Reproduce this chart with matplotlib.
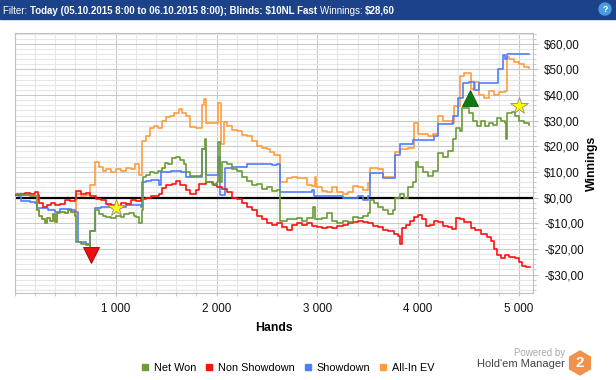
import numpy as np
import matplotlib.pyplot as plt
from matplotlib.lines import Line2D
from matplotlib.patches import Rectangle, RegularPolygon, Circle
from matplotlib.transforms import IdentityTransform

plt.rcParams['font.family'] = ['Liberation Sans', 'DejaVu Sans']

# Net Won (hands, $)
net_won_h = [0, 50, 100, 150, 210, 215, 240, 270, 300, 320, 350, 380, 400, 420, 450, 500, 530, 560,
             600, 610, 650, 700, 740, 745, 790, 795, 830, 870, 900, 950, 1000, 1050, 1080, 1130, 1180,
             1200, 1230, 1260, 1270, 1300, 1340, 1380, 1420, 1460, 1490, 1520, 1560, 1600, 1640, 1680,
             1700, 1740, 1800, 1850, 1855, 1890, 1900, 1950, 2000, 2010, 2030, 2050, 2100, 2150, 2200,
             2250, 2300, 2350, 2400, 2450, 2500, 2550, 2600, 2630, 2700, 2800, 2850, 2900, 2960, 2980,
             3050, 3100, 3150, 3200, 3250, 3300, 3350, 3400, 3450, 3500, 3520, 3560, 3600, 3650, 3700,
             3750, 3770, 3820, 3860, 3900, 3950, 3980, 4000, 4050, 4100, 4150, 4200, 4250, 4300, 4350,
             4380, 4420, 4440, 4500, 4540, 4580, 4620, 4660, 4700, 4740, 4780, 4820, 4860, 4872, 4880,
             4930, 4960, 5000, 5050, 5100]
net_won_v = [1.5, 1.0, 1.2, 0.8, 0.5, -5, -7, -8.5, -9.8, -8, -9, -6.5, -9.5, -6, -5.5, -6, -5, -5.5,
             -7, -17.5, -18, -18.5, -19, -13, -12, -5, -6.5, -7, -7.5, -8, -7, -7.5, -6.5, -6, -7,
             -7.5, -10, -5, 8, 9, 10, 9.5, 10.5, 11.5, 13.5, 13, 15.5, 16, 14.5, 13,
             10, 8.5, 8.5, 9, 19, 23, 6, 5.5, 6, 21.5, 6, 14, 13, 11, 10.5,
             8, 6.5, 5, 5.5, 3.5, 4, 2.5, 3, -9, -8.5, -8, -9, -8, -3.5, -8.5,
             -8, -6, -9, -10, -9, -9.5, -7.5, -8, -7, -6, -1, -2, -3.5, -5, -6.5,
             -5, 0, 1.5, 0, 4, 6, 14, 12, 10, 8.5, 10.5, 17.5, 16, 18, 23,
             27, 26, 35, 33, 30, 28, 30, 28, 29, 28.5, 31, 30, 29, 23, 33,
             33.5, 32, 30, 29, 28.5]

# Non Showdown
non_sd_h = [0, 50, 100, 150, 200, 227, 240, 280, 320, 360, 400, 450, 500, 550, 600, 610, 650, 700,
            740, 800, 850, 900, 950, 1000, 1050, 1100, 1150, 1200, 1250, 1300, 1350, 1400, 1430, 1460,
            1500, 1560, 1600, 1640, 1700, 1740, 1800, 1830, 1900, 1960, 2000, 2050, 2100, 2150, 2200,
            2250, 2300, 2350, 2400, 2450, 2500, 2550, 2600, 2650, 2700, 2750, 2800, 2850, 2900, 2950,
            3000, 3050, 3100, 3150, 3200, 3250, 3300, 3350, 3400, 3450, 3500, 3550, 3600, 3650, 3700,
            3760, 3800, 3825, 3840, 3880, 3920, 3960, 4000, 4040, 4080, 4120, 4160, 4200, 4250, 4300,
            4340, 4380, 4420, 4460, 4520, 4560, 4620, 4680, 4720, 4750, 4780, 4820, 4860, 4900, 4960,
            5000, 5030, 5070, 5110]
non_sd_v = [1, 1.5, 1.8, 1.5, 2, 1, -2, -3.5, -3, -2, -3, -2.5, -1, -1.5, -0.5, 2.4, 1.5, 1.8,
            0.5, -0.5, -1, -2.5, -3, -4, -2, -2.5, -1, -1.5, -0.5, 0, 0.5, 0.5, 1.5, 3.7,
            5, 5.5, 6.5, 5, 3, 1.5, 3, 5.5, 6, 5, 4.3, 3.5, 2, 0, -0.5,
            -2, -3.5, -5, -7, -8.5, -10, -10.5, -10, -11.5, -12.5, -10.5, -10, -10.5, -10, -11,
            -11.5, -12, -11.5, -12, -11, -10.5, -10, -9.5, -9.2, -9.5, -10, -11, -11.5, -12.5, -13,
            -14, -15, -18.2, -12, -10.5, -9, -7.5, -6.6, -8.5, -11, -10.5, -9, -9.5, -11, -11.5,
            -12.4, -8, -8.5, -9.5, -12, -12.5, -14, -15.5, -17, -20, -22.5, -23.5, -22.5, -23, -23.5,
            -25, -26.5, -27, -27.2]

# Showdown
sd_h = [0, 40, 60, 100, 150, 200, 215, 300, 330, 400, 450, 500, 560, 600, 627, 700, 740, 745, 790,
        795, 850, 950, 1100, 1200, 1250, 1265, 1300, 1350, 1400, 1430, 1450, 1500, 1550, 1650, 1700,
        1800, 1855, 1890, 1900, 2000, 2015, 2030, 2070, 2085, 2150, 2250, 2300, 2400, 2500, 2550,
        2600, 2630, 2700, 2900, 2950, 2970, 3100, 3200, 3250, 3300, 3350, 3400, 3450, 3500, 3520,
        3600, 3650, 3700, 3770, 3820, 3900, 3950, 4100, 4160, 4200, 4300, 4350, 4400, 4450, 4500,
        4550, 4600, 4700, 4790, 4840, 4860, 4880, 5100]
sd_v = [1.0, 0.5, -1.5, -1.5, -1.8, -2, -4, -4, -5, -5.5, -4.5, -4.5, -5, -5.5, -17.5, -18, -18.5, -13, -12,
        -4, -3.5, -3.5, -3, -3, -3.5, 6, 6.5, 7, 7, 5, 10, 10, 10.5, 10, 8,
        8, 19, 19, 8.8, 8.8, 16, 1, 1, 11.5, 12, 12, 13.3, 13.3, 13.3, 12.8,
        13, 2.3, 2.3, 2.3, 3, 0.5, 0.5, 0.5, -0.2, 0, 0, 0.5, -1, 0.5, 9.5,
        9.5, 7.5, 7.5, 16.5, 21, 21, 22.3, 22.3, 24, 28.7, 28.7, 32, 39, 44.8, 45,
        42, 44.8, 44.8, 50, 55.8, 54, 56, 56]

# All-In EV
ev_h = [0, 50, 100, 150, 210, 215, 240, 270, 300, 320, 350, 380, 400, 420, 450, 500, 530, 560, 600,
        610, 650, 700, 745, 795, 830, 870, 900, 950, 1000, 1050, 1100, 1150, 1195, 1228, 1265, 1300,
        1340, 1380, 1420, 1460, 1500, 1540, 1580, 1625, 1660, 1700, 1740, 1800, 1850, 1855, 1880,
        1900, 1950, 2000, 2010, 2030, 2040, 2070, 2100, 2150, 2200, 2250, 2300, 2350, 2400, 2450,
        2500, 2530, 2570, 2620, 2630, 2700, 2750, 2800, 2850, 2900, 2950, 2977, 2990, 3050, 3100,
        3150, 3200, 3250, 3300, 3350, 3400, 3450, 3500, 3520, 3600, 3650, 3700, 3770, 3820, 3900,
        3960, 4000, 4100, 4150, 4200, 4250, 4300, 4340, 4360, 4420, 4460, 4500, 4520, 4560, 4600,
        4650, 4700, 4750, 4800, 4860, 4880, 4900, 4950, 5000, 5050, 5100]
ev_v = [1.5, 1.0, 1.2, 0.8, 0.5, -5, -7, -8.5, -9.8, -8, -9, -6.5, -9.5, -6, -5.5, -6, -5, -5.5, -7,
        1.5, 0.5, 1, 5, 14, 12, 10.5, 11, 10, 11, 10.5, 11.5, 11, 13, 8.8, 22, 24,
        27, 28, 27, 30, 31.5, 32, 33, 34.5, 33, 32, 27.5, 27, 27, 36, 38.4,
        29, 29, 29, 37, 37, 21, 29.5, 28, 26.5, 26, 24.5, 24, 22, 20, 19.5,
        19, 17.8, 16.5, 16.5, 6.2, 7.5, 8, 7.5, 7.8, 5, 4.5, 8, 4, 2.5, 2,
        4, 2, 1.5, 2, 4.5, 4, 3, 5.6, 11.4, 11, 8, 8, 17.8, 19, 19.5,
        29, 25, 24, 25, 32, 30, 30, 29, 35.8, 47.4, 48.7, 48.5, 42.3, 45, 40,
        39, 41.5, 40, 41, 41.5, 55, 54, 53, 52, 51, 50.5]

series = [
    ("All-In EV", ev_h, ev_v, "#ff9c3f"),
    ("Showdown", sd_h, sd_v, "#4e7dfd"),
    ("Non Showdown", non_sd_h, non_sd_v, "#ff1010"),
    ("Net Won", net_won_h, net_won_v, "#6b9b3a"),
]
legend_order = ["Net Won", "Non Showdown", "Showdown", "All-In EV"]

header_parts = [("Filter: ", "normal"),
                ("Today (05.10.2015 8:00 to 06.10.2015 8:00); Blinds: $10NL Fast ", "bold"),
                ("Winnings: ", "normal"),
                ("$28,60", "bold")]

fig = plt.figure(figsize=(6.16, 3.8), dpi=100)
ax = fig.add_axes([15 / 616, 1 - 293 / 380, (533 - 15) / 616, (293 - 33) / 380])

ax.axhline(0, color="black", lw=1.6, zorder=2)
for name, h, v, c in series:
    ax.plot(h, v, drawstyle="steps-post", color=c, lw=1.2, zorder=3)

# markers
ax.plot([757], [-22.2], marker="v", ms=11, color="#e81010", mec="#9a0000", mew=0.6, zorder=5)
ax.plot([4519], [38.8], marker="^", ms=11, color="#0f7a12", mec="#0a5a0a", mew=0.6, zorder=5)
ax.plot([1004, 4999], [-4, 35.8], marker="*", ls="none", ms=13, color="#ffff00", mec="#8a8a8a",
        mew=0.6, zorder=5)

ax.set_xlim(0, 5140)
ax.set_ylim(-37.2, 64.2)
ax.set_xticks(np.arange(1000, 5001, 1000))
ax.set_xticks(np.arange(0, 5141, 200), minor=True)
ax.set_xticklabels(["1 000", "2 000", "3 000", "4 000", "5 000"])
ax.set_yticks(np.arange(-30, 61, 10))
ax.set_yticks(np.arange(-36, 65, 2), minor=True)
ax.set_yticklabels([("-$%d,00" % -t) if t < 0 else ("$%d,00" % t) for t in range(-30, 61, 10)])
ax.yaxis.tick_right()

ax.grid(which="major", color="#c9c9c9", lw=0.8, zorder=0)
ax.grid(which="minor", color="#e6e6e6", lw=0.8, zorder=0)
ax.set_axisbelow(True)
for s in ax.spines.values():
    s.set_color("#c0c0c0")
    s.set_linewidth(0.8)
ax.tick_params(axis="x", which="both", length=2.5, color="#c0c0c0", pad=4.5, labelsize=8.4,
               labelcolor="#111111")
ax.tick_params(axis="y", which="major", length=3.5, color="#c0c0c0", pad=4.5, labelsize=8.4,
               labelcolor="#111111")
ax.tick_params(axis="y", which="minor", length=2, color="#c0c0c0")
ax.set_xlabel("Hands", fontsize=8.8, fontweight="bold", labelpad=5)
fig.text(592 / 616, 1 - 163 / 380, "Winnings", rotation=90, fontsize=8.8, fontweight="bold",
         ha="center", va="center")

# legend
colors = {name: c for name, h, v, c in series}
handles = [Line2D([], [], marker="s", ls="none", color=colors[n], ms=4.5) for n in legend_order]
fig.legend(handles, legend_order, loc="center", bbox_to_anchor=(288 / 616, 1 - 368 / 380), ncol=4,
           frameon=False, fontsize=7.8, handlelength=0.6, handletextpad=0.5, columnspacing=0.9)

# header bar
fig.add_artist(Rectangle((0, 1 - 19 / 380), 1, 19 / 380, transform=fig.transFigure,
                         color="#1c4389", zorder=0))
ty = 1 - 10 / 380
renderer = fig.canvas.get_renderer()
x = 3
for txt, weight in header_parts:
    t = fig.text(x / 616, ty, txt, color="white", fontsize=7.0, fontweight=weight,
                 va="baseline", transform=fig.transFigure)
    t.set_y(1 - 13.5 / 380)
    x += t.get_window_extent(renderer).width
fig.add_artist(Circle((605, 380 - 9), 6, transform=IdentityTransform(), color="#4a9be0", zorder=2))
fig.text(605 / 616, 1 - 9 / 380, "?", color="white", fontsize=6.5, fontweight="bold",
         ha="center", va="center", zorder=3)

# logo
fig.text(565 / 616, 1 - 353 / 380, "Powered by", color="#aaaaaa", fontsize=7, ha="right", va="center")
fig.text(565 / 616, 1 - 364 / 380, "Hold'em Manager", color="#444444", fontsize=8, ha="right",
         va="center")
fig.add_artist(RegularPolygon((580, 380 - 363), 6, radius=12, transform=IdentityTransform(),
                              color="#f0924c"))
fig.text(580 / 616, 1 - 363 / 380, "2", color="white", fontsize=11, fontweight="bold",
         ha="center", va="center")

fig.savefig("out.png", dpi=100)
